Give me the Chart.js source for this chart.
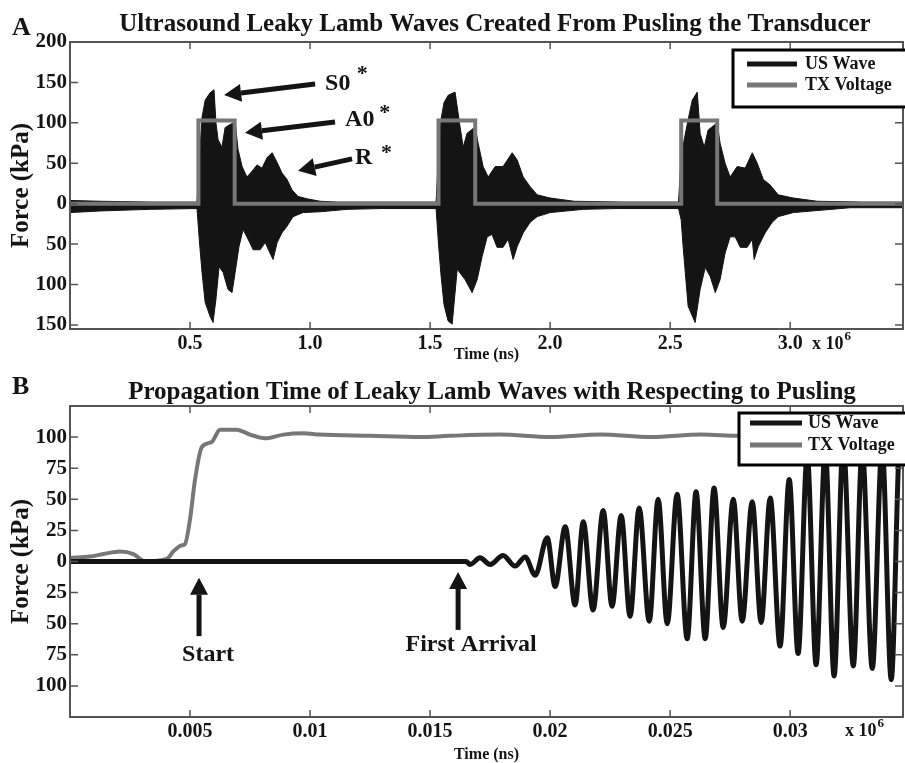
<!DOCTYPE html>
<html>
<head>
<meta charset="utf-8">
<script src="https://cdn.jsdelivr.net/npm/chart.js@4.4.0/dist/chart.umd.min.js"></script>
<style>
    html, body { margin: 0; padding: 0; background: #fff; }
    canvas { position: absolute; left: 0; }
    #chartA { top: 0; }
    #chartB { top: 370px; }
</style>
</head>
<body>
<canvas id="chartA" width="905" height="370"></canvas>
<canvas id="chartB" width="905" height="393"></canvas>
<script>
const FUENTE = '"Liberation Serif", "Times New Roman", serif';
const NEGRO = '#141414';
const GRIS = '#777777';

// ---- Panel A: envolvente de la onda US (x en 10^6 ns, y en kPa) ----
const ondaSuperiorA = [
    [0.000, 4], [0.125, 3], [0.333, 2], [0.529, 2],
    [0.540, 60], [0.550, 107], [0.563, 128], [0.583, 137], [0.600, 141], [0.608, 100], [0.617, 79],
    [0.633, 70], [0.646, 94], [0.667, 98], [0.688, 101], [0.700, 67], [0.717, 46], [0.737, 33],
    [0.758, 40], [0.779, 48], [0.800, 44], [0.821, 57], [0.842, 63], [0.863, 51], [0.883, 38],
    [0.904, 30], [0.925, 17], [0.950, 9], [0.988, 6], [1.042, 3], [1.113, 2], [1.300, 2], [1.525, 2],
    [1.535, 60], [1.546, 105], [1.558, 125], [1.575, 134], [1.604, 138], [1.625, 95], [1.638, 70],
    [1.654, 87], [1.688, 95], [1.700, 75], [1.721, 46], [1.742, 33], [1.771, 46], [1.804, 46],
    [1.842, 63], [1.863, 54], [1.888, 33], [1.917, 21], [1.946, 11], [2.000, 7], [2.100, 3],
    [2.300, 2], [2.535, 2],
    [2.546, 60], [2.575, 104], [2.592, 128], [2.613, 138], [2.625, 87], [2.642, 70], [2.658, 91],
    [2.696, 100], [2.708, 75], [2.729, 50], [2.750, 33], [2.779, 46], [2.813, 44], [2.842, 63],
    [2.863, 50], [2.888, 30], [2.917, 23], [2.950, 11], [3.013, 7], [3.113, 3], [3.300, 2], [3.470, 2]
];
const ondaInferiorA = [
    [0.000, -11], [0.125, -9], [0.333, -7], [0.529, -6],
    [0.540, -50], [0.550, -85], [0.563, -122], [0.583, -139], [0.596, -147], [0.608, -118], [0.621, -78],
    [0.638, -85], [0.658, -106], [0.675, -110], [0.688, -85], [0.704, -53], [0.721, -32], [0.742, -44],
    [0.763, -57], [0.792, -57], [0.813, -48], [0.833, -61], [0.846, -69], [0.863, -48], [0.883, -36],
    [0.904, -28], [0.929, -16], [0.971, -11], [1.042, -10], [1.154, -7], [1.300, -6], [1.525, -6],
    [1.535, -50], [1.546, -90], [1.558, -125], [1.575, -145], [1.592, -149], [1.613, -81], [1.646, -94],
    [1.675, -110], [1.696, -94], [1.717, -65], [1.738, -41], [1.758, -38], [1.779, -54], [1.804, -54],
    [1.825, -44], [1.846, -69], [1.863, -53], [1.888, -36], [1.917, -23], [1.946, -16], [2.000, -11],
    [2.138, -7], [2.279, -6], [2.535, -6],
    [2.546, -20], [2.554, -53], [2.575, -127], [2.604, -147], [2.625, -106], [2.646, -79], [2.667, -90],
    [2.688, -110], [2.708, -94], [2.729, -61], [2.750, -41], [2.771, -41], [2.792, -54], [2.821, -54],
    [2.842, -44], [2.850, -69], [2.867, -53], [2.896, -36], [2.925, -23], [2.950, -16], [3.013, -11],
    [3.250, -5], [3.470, -5]
];
const voltajeA = [
    [0, 0], [0.535, 0], [0.535, 103], [0.686, 103], [0.686, 0],
    [1.535, 0], [1.535, 103], [1.688, 103], [1.688, 0],
    [2.546, 0], [2.546, 103], [2.696, 103], [2.696, 0], [3.470, 0]
];
const tiempoTicksA = [0.5, 1.0, 1.5, 2.0, 2.5, 3.0];
const tiempoEtiquetasA = ['0.5', '1.0', '1.5', '2.0', '2.5', '3.0'];
const fuerzaTicksA = [-150, -100, -50, 0, 50, 100, 150, 200];
const fuerzaEtiquetasA = ['150', '100', '50', '0', '50', '100', '150', '200'];

// ---- Panel B: detalle de la llegada ----
const ondaB = [
    [0, 0], [0.0165, 0], [0.01667, -2.4], [0.01708, 3], [0.0175, -2.4], [0.01804, 4.8], [0.01854, -3.7],
    [0.01896, 3.7], [0.01938, -11],
    [0.01988, 19], [0.02021, -20], [0.02063, 28], [0.02104, -35], [0.02138, 32], [0.02179, -39],
    [0.02221, 41], [0.02258, -36], [0.02296, 37], [0.02333, -44], [0.02371, 43], [0.02413, -48],
    [0.0245, 50], [0.02488, -50], [0.02529, 54], [0.02571, -62], [0.02608, 56], [0.02646, -62],
    [0.02683, 59], [0.02721, -53], [0.02763, 50], [0.028, -48], [0.02842, 48], [0.02879, -49],
    [0.02917, 51], [0.02958, -68], [0.02996, 66], [0.03033, -74], [0.03071, 85], [0.03108, -83],
    [0.03146, 90], [0.03183, -92], [0.03221, 95], [0.03263, -84], [0.033, 90], [0.03342, -86],
    [0.03383, 92], [0.03421, -95], [0.03458, 97], [0.0347, 90]
];
const voltajeB = [
    [0, 3], [0.00083, 4], [0.00139, 6], [0.00208, 8], [0.00264, 6], [0.00313, 0], [0.00403, 2],
    [0.0043, 8], [0.00465, 13], [0.00479, 14], [0.005, 34], [0.00521, 66], [0.00549, 92], [0.0059, 96],
    [0.00625, 106], [0.00694, 106], [0.0075, 102], [0.00813, 99], [0.00889, 102], [0.00972, 103],
    [0.0104, 102], [0.0125, 101], [0.0146, 100], [0.0158, 101], [0.0179, 102], [0.02, 100],
    [0.0221, 102], [0.0242, 100], [0.0263, 102], [0.0279, 101], [0.031, 102], [0.0347, 102]
];
const tiempoTicksB = [0.005, 0.01, 0.015, 0.02, 0.025, 0.03];
const tiempoEtiquetasB = ['0.005', '0.01', '0.015', '0.02', '0.025', '0.03'];
const fuerzaTicksB = [-100, -75, -50, -25, 0, 25, 50, 75, 100];
const fuerzaEtiquetasB = ['100', '75', '50', '25', '0', '25', '50', '75', '100'];

const aPuntos = pares => pares.map(([x, y]) => ({ x, y }));

// Textos, flechas y leyenda de cada panel (flechas/textos en coordenadas de datos)
const decoraciones = {
    chartA: {
        letra: { texto: 'A', x: 12, y: 28 },
        titulo: { texto: 'Ultrasound Leaky Lamb Waves Created From Pusling the Transducer', x: 495, y: 25 },
        exponente: { dx: -91, dy: 15 },
        flechas: [
            { desde: [1.021, 148], hasta: [0.642, 134.5] },
            { desde: [1.104, 101], hasta: [0.729, 87.7] },
            { desde: [1.175, 55.5], hasta: [0.950, 40.7] }
        ],
        textos: [
            { texto: 'S0', x: 1.0625, y: 148, size: 24, align: 'left' },
            { texto: '*', x: 1.195, y: 160, size: 22, align: 'left' },
            { texto: 'A0', x: 1.146, y: 103.5, size: 24, align: 'left' },
            { texto: '*', x: 1.288, y: 112, size: 22, align: 'left' },
            { texto: 'R', x: 1.1875, y: 56.3, size: 24, align: 'left' },
            { texto: '*', x: 1.296, y: 62, size: 22, align: 'left' }
        ],
        leyenda: { x: 733, y: 50, w: 175, h: 57, filas: [64, 85], lineaX: [747, 797], textoX: 805 }
    },
    chartB: {
        letra: { texto: 'B', x: 12, y: 17 },
        titulo: { texto: 'Propagation Time of Leaky Lamb Waves with Respecting to Pusling', x: 492, y: 23 },
        exponente: { dx: -58, dy: 14 },
        flechas: [
            { desde: [0.005375, -60], hasta: [0.005375, -13] },
            { desde: [0.016167, -55], hasta: [0.016167, -8.4] }
        ],
        textos: [
            { texto: 'Start', x: 0.00575, y: -75, size: 24, align: 'center' },
            { texto: 'First Arrival', x: 0.01671, y: -67, size: 24, align: 'center' }
        ],
        leyenda: { x: 739, y: 43, w: 170, h: 52, filas: [53, 75], lineaX: [750, 802], textoX: 808 }
    }
};

function dibujarFlecha(ctx, x1, y1, x2, y2) {
    const ang = Math.atan2(y2 - y1, x2 - x1);
    const largo = 17, ancho = 9;
    const bx = x2 - largo * Math.cos(ang), by = y2 - largo * Math.sin(ang);
    ctx.lineWidth = 5;
    ctx.beginPath();
    ctx.moveTo(x1, y1);
    ctx.lineTo(bx, by);
    ctx.stroke();
    ctx.beginPath();
    ctx.moveTo(x2, y2);
    ctx.lineTo(bx + ancho * Math.sin(ang), by - ancho * Math.cos(ang));
    ctx.lineTo(bx - ancho * Math.sin(ang), by + ancho * Math.cos(ang));
    ctx.closePath();
    ctx.fill();
}

const decoracion = {
    id: 'decoracion',
    afterDraw(chart) {
        const deco = decoraciones[chart.canvas.id];
        const { ctx, chartArea: ca } = chart;
        const x = chart.scales.x, y = chart.scales.y;
        ctx.save();

        // Marco y marcas hacia dentro en los cuatro lados
        ctx.strokeStyle = '#555';
        ctx.lineWidth = 2;
        ctx.strokeRect(ca.left, ca.top, ca.right - ca.left, ca.bottom - ca.top);
        ctx.lineWidth = 1.5;
        ctx.beginPath();
        x.ticks.forEach((t, i) => {
            const px = x.getPixelForTick(i);
            ctx.moveTo(px, ca.bottom); ctx.lineTo(px, ca.bottom - 7);
            ctx.moveTo(px, ca.top); ctx.lineTo(px, ca.top + 7);
        });
        y.ticks.forEach((t, i) => {
            const py = y.getPixelForTick(i);
            ctx.moveTo(ca.left, py); ctx.lineTo(ca.left + 8, py);
            ctx.moveTo(ca.right, py); ctx.lineTo(ca.right - 8, py);
        });
        ctx.stroke();

        ctx.fillStyle = NEGRO;
        ctx.strokeStyle = NEGRO;
        ctx.textBaseline = 'middle';

        // Letra del panel y título
        ctx.textAlign = 'left';
        ctx.font = `bold 26px ${FUENTE}`;
        ctx.fillText(deco.letra.texto, deco.letra.x, deco.letra.y);
        ctx.textAlign = 'center';
        ctx.font = `bold 25px ${FUENTE}`;
        ctx.fillText(deco.titulo.texto, deco.titulo.x, deco.titulo.y);

        // x 10^6
        ctx.textAlign = 'left';
        ctx.font = `bold 18px ${FUENTE}`;
        const ex = ca.right + deco.exponente.dx;
        ctx.fillText('x 10', ex, ca.bottom + deco.exponente.dy);
        const w = ctx.measureText('x 10').width;
        ctx.font = `bold 13px ${FUENTE}`;
        ctx.fillText('6', ex + w + 1, ca.bottom + deco.exponente.dy - 7);

        // Flechas y textos de anotación
        deco.flechas.forEach(f => {
            dibujarFlecha(ctx,
                x.getPixelForValue(f.desde[0]), y.getPixelForValue(f.desde[1]),
                x.getPixelForValue(f.hasta[0]), y.getPixelForValue(f.hasta[1]));
        });
        deco.textos.forEach(t => {
            ctx.font = `bold ${t.size}px ${FUENTE}`;
            ctx.textAlign = t.align;
            ctx.fillText(t.texto, x.getPixelForValue(t.x), y.getPixelForValue(t.y));
        });

        // Leyenda dentro del área
        const L = deco.leyenda;
        ctx.fillStyle = '#fff';
        ctx.fillRect(L.x, L.y, L.w, L.h);
        ctx.lineWidth = 3;
        ctx.strokeStyle = '#000';
        ctx.strokeRect(L.x, L.y, L.w, L.h);
        const series = [{ texto: 'US Wave', color: NEGRO }, { texto: 'TX Voltage', color: GRIS }];
        series.forEach((s, i) => {
            ctx.strokeStyle = s.color;
            ctx.lineWidth = 5;
            ctx.beginPath();
            ctx.moveTo(L.lineaX[0], L.filas[i]);
            ctx.lineTo(L.lineaX[1], L.filas[i]);
            ctx.stroke();
            ctx.fillStyle = NEGRO;
            ctx.font = `bold 18px ${FUENTE}`;
            ctx.textAlign = 'left';
            ctx.fillText(s.texto, L.textoX, L.filas[i]);
        });
        ctx.restore();
    }
};

function opciones(cfg) {
    return {
        responsive: false,
        animation: false,
        layout: { padding: { top: cfg.arriba, right: 2, left: 0, bottom: 0 } },
        plugins: { legend: { display: false }, tooltip: { enabled: false } },
        scales: {
            x: {
                type: 'linear', min: 0, max: cfg.xMax,
                grid: { display: false, drawTicks: false },
                border: { display: false },
                afterBuildTicks: s => { s.ticks = cfg.xTicks.map(v => ({ value: v })); },
                afterFit: s => { s.height = cfg.altoX; },
                ticks: {
                    padding: 3, color: NEGRO, autoSkip: false, maxRotation: 0,
                    font: { family: FUENTE, size: 20, weight: 'bold' },
                    callback: (v, i) => cfg.xEtiquetas[i]
                },
                title: {
                    display: true, text: 'Time (ns)', color: NEGRO,
                    font: { family: FUENTE, size: 16, weight: 'bold', lineHeight: 1 },
                    padding: { top: 0, bottom: cfg.padTituloX }
                }
            },
            y: {
                type: 'linear', min: cfg.yMin, max: cfg.yMax,
                grid: { display: false, drawTicks: false },
                border: { display: false },
                afterBuildTicks: s => { s.ticks = cfg.yTicks.map(v => ({ value: v })); },
                afterFit: s => { s.width = 70; },
                ticks: {
                    padding: 3, color: NEGRO, autoSkip: false,
                    font: { family: FUENTE, size: 21, weight: 'bold' },
                    callback: (v, i) => cfg.yEtiquetas[i]
                },
                title: {
                    display: true, text: 'Force (kPa)', color: NEGRO,
                    font: { family: FUENTE, size: 25, weight: 'bold', lineHeight: 1.2 },
                    padding: { top: 7, bottom: 0 }
                }
            }
        }
    };
}

new Chart(document.getElementById('chartA'), {
    type: 'line',
    data: {
        datasets: [
            { label: 'TX Voltage', data: aPuntos(voltajeA), borderColor: GRIS, borderWidth: 4, pointRadius: 0, fill: false },
            { label: 'US Wave', data: aPuntos(ondaSuperiorA), borderColor: NEGRO, backgroundColor: NEGRO, borderWidth: 1, pointRadius: 0, fill: '+1' },
            { label: 'US Wave (inf)', data: aPuntos(ondaInferiorA), borderColor: NEGRO, borderWidth: 1, pointRadius: 0, fill: false }
        ]
    },
    options: opciones({
        arriba: 42, altoX: 41, padTituloX: 7, xMax: 3.47, yMin: -155, yMax: 200,
        xTicks: tiempoTicksA, xEtiquetas: tiempoEtiquetasA, yTicks: fuerzaTicksA, yEtiquetas: fuerzaEtiquetasA
    }),
    plugins: [decoracion]
});

new Chart(document.getElementById('chartB'), {
    type: 'line',
    data: {
        datasets: [
            { label: 'US Wave', data: aPuntos(ondaB), borderColor: NEGRO, borderWidth: 5, pointRadius: 0, fill: false, cubicInterpolationMode: 'monotone' },
            { label: 'TX Voltage', data: aPuntos(voltajeB), borderColor: GRIS, borderWidth: 4, pointRadius: 0, fill: false, cubicInterpolationMode: 'monotone' }
        ]
    },
    options: opciones({
        arriba: 36, altoX: 46, padTituloX: 0, xMax: 0.0347, yMin: -125, yMax: 125,
        xTicks: tiempoTicksB, xEtiquetas: tiempoEtiquetasB, yTicks: fuerzaTicksB, yEtiquetas: fuerzaEtiquetasB
    }),
    plugins: [decoracion]
});
</script>
</body>
</html>
